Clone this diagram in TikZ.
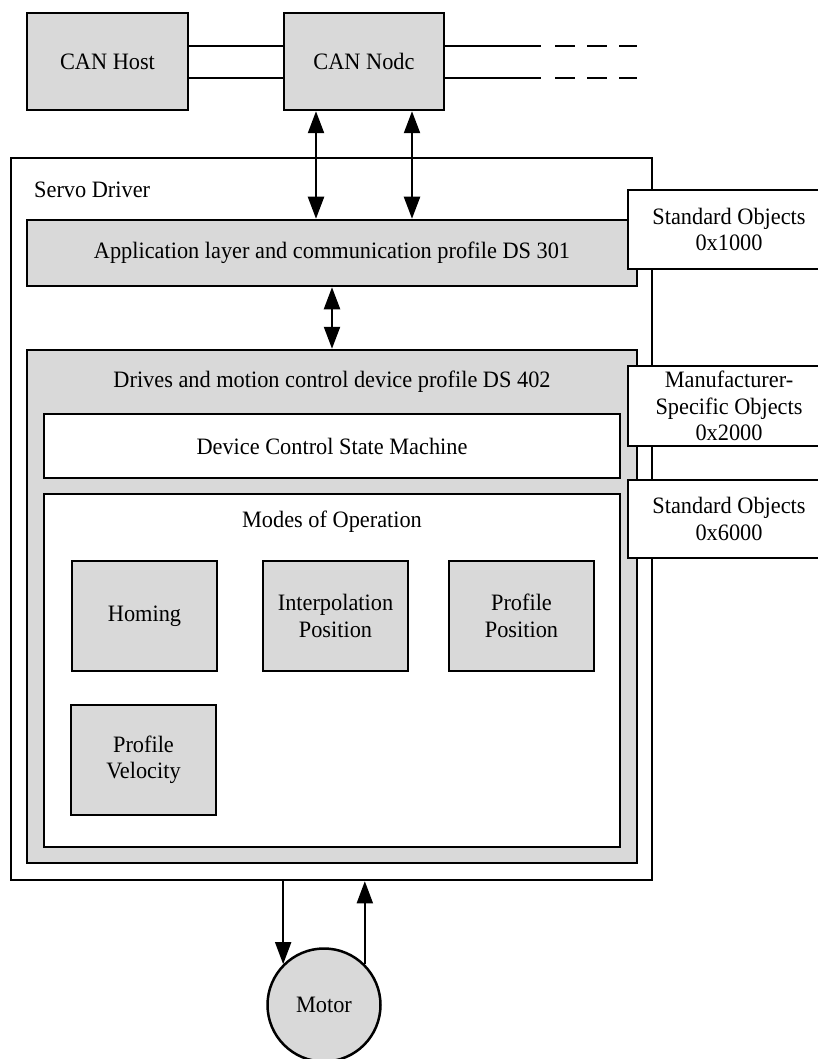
\documentclass[tikz,border=0pt]{standalone}
\usepackage{fontspec}
\setmainfont{Liberation Serif}[FakeStretch=0.95]
\usetikzlibrary{arrows.meta,calc}
\definecolor{boxgray}{RGB}{217,217,217}
\tikzset{
  graybox/.style={draw, line width=2.5pt, fill=boxgray, inner sep=0pt, align=center},
  whitebox/.style={draw, line width=2.5pt, fill=white, inner sep=0pt, align=center},
  modebox/.style={graybox, line width=2.2pt, minimum width=145pt, minimum height=110pt},
  objbox/.style={whitebox, minimum width=202pt},
  txtlabel/.style={inner sep=0pt, align=center},
  busline/.style={line width=2.5pt},
  dblarrow/.style={line width=2.3pt, {Triangle[length=22pt,width=16pt]}-{Triangle[length=22pt,width=16pt]}},
  onearrow/.style={line width=1.8pt, -{Triangle[length=22pt,width=16pt]}},
}

\begin{document}
\begin{tikzpicture}[x=1pt,y=1pt,yscale=-1,font=\fontsize{23.5}{26.5}\selectfont]
\useasboundingbox (0,0) rectangle (818,1059);

%CAN bus
\node[graybox, minimum width=161pt, minimum height=97pt] (host) at (107.5,61.5) {CAN Host};
\node[graybox, minimum width=160pt, minimum height=97pt] (canode) at (364,61.5) {CAN Nodc};
\coordinate (bustop) at (541,46);
\coordinate (busbot) at (541,78);
\coordinate (bustopend) at (637,46);
\coordinate (busbotend) at (637,78);
\draw[busline] ($(host.east)+(0,-15.5)$) -- ($(canode.west)+(0,-15.5)$);
\draw[busline] ($(host.east)+(0,16.5)$) -- ($(canode.west)+(0,16.5)$);
\draw[busline] ($(canode.east)+(0,-15.5)$) -- (bustop);
\draw[busline] ($(canode.east)+(0,16.5)$) -- (busbot);
\draw[busline, dash pattern=on 20pt off 12pt] ($(bustop)+(14,0)$) -- (bustopend);
\draw[busline, dash pattern=on 20pt off 12pt] ($(busbot)+(14,0)$) -- (busbotend);

%Servo driver
\node[whitebox, minimum width=641pt, minimum height=722pt] (servo) at (331.5,519) {};
% Text Node
\node[txtlabel, anchor=west] (servolbl) at (34,190) {Servo Driver};
\node[graybox, minimum width=610pt, minimum height=66pt] (app) at (332,253) {Application layer and communication profile DS 301};
\node[graybox, minimum width=610pt, minimum height=513pt] (ds402) at (332,606.5) {};
% Text Node
\node[txtlabel] (ds402lbl) at (332,382) {Drives and motion control device profile DS 402};
\node[whitebox, minimum width=576pt, minimum height=64pt] (dcsm) at (332,446) {Device Control State Machine};
\node[whitebox, minimum width=576pt, minimum height=353pt] (modes) at (332,670.5) {};
% Text Node
\node[txtlabel] (modeslbl) at (332,522) {Modes of Operation};

%Modes of operation
\node[modebox] (homing) at (144.5,616) {Homing};
\node[modebox] (interp) at (335.5,616) {Interpolation\\Position};
\node[modebox] (profpos) at (521.5,616) {Profile\\Position};
\node[modebox] (profvel) at (143.5,760) {Profile\\Velocity};

%Object dictionary
\node[objbox, minimum height=79pt] (std1) at (729,229.5) {Standard Objects\\0x1000};
\node[objbox, minimum height=80pt] (mfr) at (729,406) {Manufacturer-\\Specific Objects\\0x2000};
\node[objbox, minimum height=78pt] (std6) at (729,519) {Standard Objects\\0x6000};

%Motor
\node[graybox, circle, minimum size=113pt] (motor) at (324,1005) {Motor};

%Arrows
\draw[dblarrow] ([xshift=-48pt]canode.south) -- ([xshift=-48pt]canode.south |- app.north);
\draw[dblarrow] ([xshift=48pt]canode.south) -- ([xshift=48pt]canode.south |- app.north);
\draw[dblarrow] (app.south) -- (ds402.north);
\draw[onearrow] (motor.135 |- servo.south) -- (motor.135);
\draw[onearrow] (motor.45) -- (motor.45 |- servo.south);

\end{tikzpicture}
\end{document}
